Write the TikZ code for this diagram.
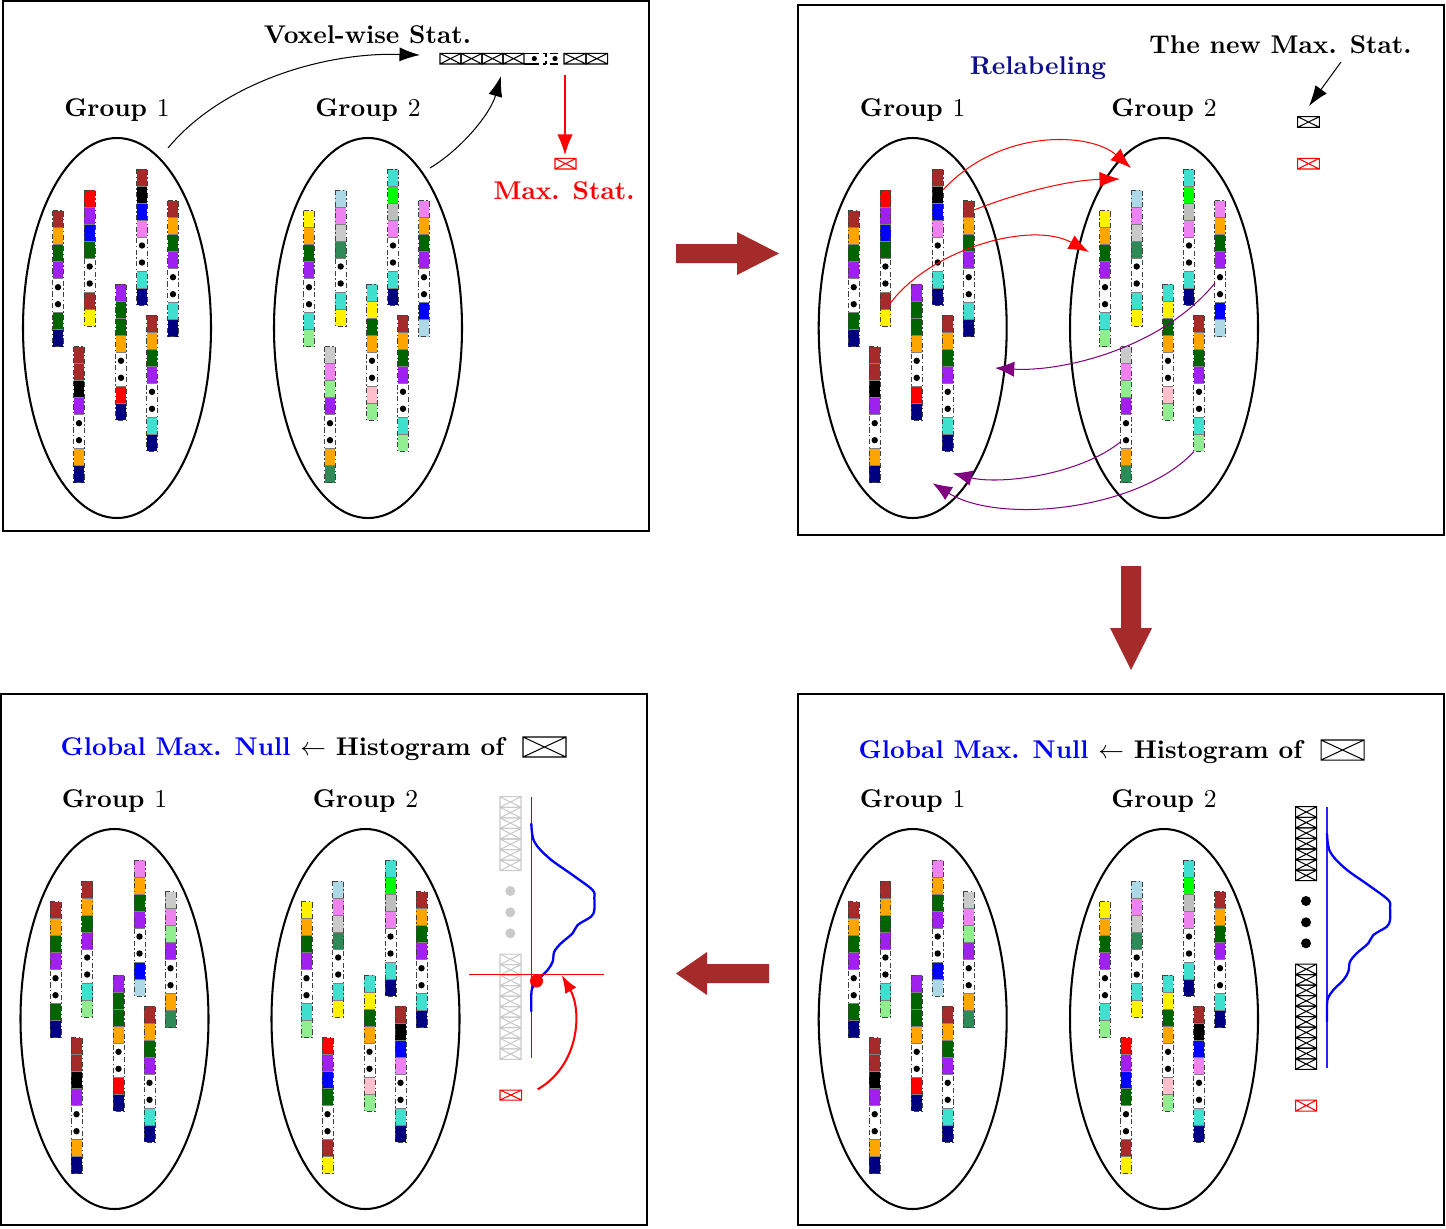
\documentclass[tikz,border=0pt]{standalone}
\usetikzlibrary{arrows.meta,calc}
\definecolor{brn}{HTML}{A52A2A}
\definecolor{org}{HTML}{FFA500}
\definecolor{dgr}{HTML}{006400}
\definecolor{pur}{HTML}{A020F0}
\definecolor{nvy}{HTML}{000080}
\definecolor{lim}{HTML}{00FF00}
\definecolor{vio}{HTML}{EE82EE}
\definecolor{tur}{HTML}{40E0D0}
\definecolor{lbl}{HTML}{ADD8E6}
\definecolor{lgy}{HTML}{CACACA}
\definecolor{gry}{HTML}{BEBEBE}
\definecolor{sgr}{HTML}{2E8B57}
\definecolor{lgr}{HTML}{90EE90}
\definecolor{pnk}{HTML}{FFC0CB}
\definecolor{arrpur}{HTML}{800080}
\definecolor{relabc}{HTML}{10108A}
\definecolor{bigarr}{HTML}{A52A2A}
\def\GA{brn,org,dgr,pur,dgr,nvy}
\def\GB{red,pur,blue,dgr,brn,yellow}
\def\GC{brn,black,blue,vio,tur,nvy}
\def\GD{brn,org,dgr,pur,tur,nvy}
\def\GE{pur,dgr,dgr,org,red,nvy}
\def\GF{brn,brn,black,pur,org,nvy}
\def\GG{brn,org,dgr,pur,tur,nvy}
\def\HA{yellow,org,dgr,pur,tur,lgr}
\def\HB{lbl,vio,lgy,sgr,tur,yellow}
\def\HC{tur,lim,gry,vio,tur,nvy}
\def\HD{vio,org,dgr,pur,blue,lbl}
\def\HE{tur,yellow,dgr,org,pnk,lgr}
\def\HF{lgy,vio,lgr,pur,org,sgr}
\def\HG{brn,org,dgr,pur,tur,lgr}
\tikzset{
  panel/.style={draw=black, line width=0.5pt},
  grpell/.style={draw=black, line width=0.8pt},
  lab/.style={font=\bfseries, inner sep=0pt, anchor=base},
  colborder/.style={draw=black!75, line width=0.3pt, dash pattern=on 2pt off 1pt on 0.5pt off 1pt},
  cellsep/.style={draw=gray, line width=0.2pt},
  blkarr/.style={-{Latex[length=8pt,width=5.5pt]}, line width=0.4pt, black},
  redarr/.style={-{Latex[length=8pt,width=6pt]}, line width=0.4pt, red},
  purarr/.style={-{Latex[length=7.5pt,width=6pt]}, line width=0.4pt, arrpur},
  bigarrow/.style={fill=bigarr, draw=none}
}
\newcommand\crossbox[5][black]{\draw[#1, line width=0.4pt] (#2,#3) rectangle (#4,#5) (#2,#3) -- (#4,#5) (#2,#5) -- (#4,#3);}
\newcommand\vcol[3]{\pgfmathsetmacro\vx{#1}\pgfmathsetmacro\vy{#2}\edef\vlist{#3}\expandafter\vcolparse\vlist\relax}
\def\vcolparse#1,#2,#3,#4,#5,#6\relax{%
 \begin{scope}[shift={(\vx-5.4,\vy)}]
  \fill[#1] (0,0) rectangle (10.8,17);
  \fill[#2] (0,17) rectangle (10.8,34);
  \fill[#3] (0,34) rectangle (10.8,51);
  \fill[#4] (0,51) rectangle (10.8,68);
  \fill[#5] (0,102) rectangle (10.8,119);
  \fill[#6] (0,119) rectangle (10.8,136);
  \fill[black] (5.4,76.5) circle[radius=3.2];
  \fill[black] (5.4,93.5) circle[radius=3.2];
  \draw[cellsep] (0,17)--(10.8,17) (0,34)--(10.8,34) (0,51)--(10.8,51) (0,68)--(10.8,68) (0,102)--(10.8,102) (0,119)--(10.8,119);
  \draw[colborder] (0,0) rectangle (10.8,136);
 \end{scope}}
\newcommand\drawgroup[9]{%
 \draw[grpell] (#1,#2+1) ellipse[x radius=94, y radius=190];
 \vcol{#1-59}{#2-116.3}{#3}
 \vcol{#1-27.3}{#2-137}{#4}
 \vcol{#1+25}{#2-158}{#5}
 \vcol{#1+56}{#2-126.3}{#6}
 \vcol{#1+4}{#2-42.7}{#7}
 \vcol{#1-38}{#2+19.7}{#8}
 \vcol{#1+35}{#2-11.7}{#9}}
\newcommand\histo[1]{%
 \foreach \i in {0,...,6} {\pgfmathsetmacro\ya{806.7+\i*10.57}\pgfmathsetmacro\yb{\ya+10.57}\crossbox[#1]{1295.7}{\ya}{1316.7}{\yb}}
 \foreach \i in {0,...,9} {\pgfmathsetmacro\ya{964+\i*10.53}\pgfmathsetmacro\yb{\ya+10.53}\crossbox[#1]{1295.7}{\ya}{1316.7}{\yb}}
 \fill[#1] (1306,901) circle[radius=5] (1306,922.3) circle[radius=5] (1306,943.3) circle[radius=5];
 \draw[blue!85!white, line width=0.6pt] (1327,806.7) -- (1327,1068.3);
 \draw[blue, line width=0.9pt] plot[smooth, tension=0.55] coordinates {(1327,833.3) (1330,851.7) (1345,868.3) (1368.3,885) (1388.3,900) (1390,908) (1390,920) (1386.7,926.7) (1373.3,935) (1368.3,943.3) (1356.7,953.3) (1350,961.7) (1348.3,971.7) (1343.3,980) (1333.3,990) (1328,998) (1327,1005) (1327,1021.7)};}
\begin{document}
\begin{tikzpicture}[x=0.39pt,y=-0.39pt]
\useasboundingbox (0,0) rectangle (1446,1228);
\fill[white] (0,0) rectangle (1446,1228);
% panels
\draw[panel] (3,1) rectangle (649,531);
\draw[panel] (798,5) rectangle (1444,535);
\draw[panel] (1,694) rectangle (647,1225);
\draw[panel] (798,694) rectangle (1444,1225);
% big arrows
\fill[bigarrow] (676,244) -- (737,244) -- (737,232) -- (779,253.5) -- (737,275) -- (737,263) -- (676,263) -- cycle;
\fill[bigarrow] (1121,566) -- (1141,566) -- (1141,628) -- (1152,628) -- (1131,670) -- (1110,628) -- (1121,628) -- cycle;
\fill[bigarrow] (769,964) -- (707,964) -- (707,952) -- (676,973.5) -- (707,995) -- (707,983) -- (769,983) -- cycle;
% groups
\drawgroup{117}{327}{\GA}{\GB}{\GC}{\GD}{\GE}{\GF}{\GG}
\drawgroup{368}{327}{\HA}{\HB}{\HC}{\HD}{\HE}{\HF}{\HG}
\drawgroup{912.7}{327}{\GA}{\GB}{\GC}{\GD}{\GE}{\GF}{\GG}
\drawgroup{1164}{327}{\HA}{\HB}{\HC}{\HD}{\HE}{\HF}{\HG}
\drawgroup{114.5}{1018}{\GA}{\HG}{\HD}{\HF}{\GE}{\GF}{\GG}
\drawgroup{365.5}{1018}{\HA}{\HB}{\HC}{\GD}{\HE}{\GB}{\GC}
\drawgroup{912.7}{1018}{\GA}{\HG}{\HD}{\HF}{\GE}{\GF}{\GG}
\drawgroup{1164}{1018}{\HA}{\HB}{\HC}{\GD}{\HE}{\GB}{\GC}
% group labels
\node[lab] (p1g1) at (117,116) {Group $1$};
\node[lab] (p1g2) at (368,116) {Group $2$};
\node[lab] (p2g1) at (912.7,116) {Group $1$};
\node[lab] (p2g2) at (1164,116) {Group $2$};
\node[lab] (p3g1) at (114.5,807) {Group $1$};
\node[lab] (p3g2) at (365.5,807) {Group $2$};
\node[lab] (p4g1) at (912.7,807) {Group $1$};
\node[lab] (p4g2) at (1164,807) {Group $2$};
% panel 1
\node[lab] (vox) at (367.5,43) {Voxel-wise Stat.};
\foreach \i in {0,...,3} {\crossbox{440+\i*21}{53.3}{461+\i*21}{64}}
\crossbox{564}{53.3}{586}{64}
\crossbox{586}{53.3}{607.7}{64}
\draw[black, line width=0.4pt, dash pattern=on 6pt off 1.5pt on 1pt off 1.5pt] (524,53.3) -- (558,53.3) (524,64) -- (558,64);
\draw[black, line width=0.4pt, dash pattern=on 1.5pt off 1.5pt] (546,53.3) -- (546,64);
\fill[black] (534.3,58.6) circle[radius=2.6] (555,58.6) circle[radius=2.6];
\crossbox[red]{555}{158.3}{576}{169}
\node[lab, text=red] (maxs) at (564,199) {Max. Stat.};
\coordinate (a1s) at (168,148); \coordinate (a1e) at (420,55);
\draw[blkarr] (a1s) .. controls (220,85) and (320,52) .. (a1e);
\coordinate (a2s) at (430,168); \coordinate (a2e) at (501,76);
\draw[blkarr] (a2s) .. controls (460,150) and (490,115) .. (a2e);
\coordinate (r0s) at (565,75); \coordinate (r0e) at (565,155);
\draw[redarr] (r0s) -- (r0e);
% panel 2
\node[lab, text=relabc] (relab) at (1038,74) {Relabeling};
\node[lab] (tnew) at (1280.5,53) {The new Max. Stat.};
\crossbox{1297.7}{116.7}{1319.3}{127.3}
\crossbox[red]{1297.7}{158.3}{1319.3}{169}
\coordinate (nms) at (1341,62); \coordinate (nme) at (1309,106);
\draw[blkarr] (nms) -- (nme);
\coordinate (r1s) at (943,190); \coordinate (r1e) at (1131,168);
\draw[redarr] (r1s) .. controls (1000,128) and (1090,132) .. (r1e);
\coordinate (r2s) at (974,210); \coordinate (r2e) at (1120,179);
\draw[redarr] (r2s) .. controls (1020,192) and (1070,180) .. (r2e);
\coordinate (r3s) at (890.5,303); \coordinate (r3e) at (1089,252);
\draw[redarr] (r3s) .. controls (930,250) and (1030,220) .. (r3e);
\coordinate (p4s) at (1215,283); \coordinate (p4e) at (995,368);
\draw[purarr] (p4s) .. controls (1160,350) and (1060,372) .. (p4e);
\coordinate (p5s) at (1120.7,441.7); \coordinate (p5e) at (952.7,473.3);
\draw[purarr] (p5s) .. controls (1080,475) and (1000,485) .. (p5e);
\coordinate (p6s) at (1194,451.5); \coordinate (p6e) at (932.7,483.3);
\draw[purarr] (p6s) .. controls (1140,510) and (1000,525) .. (p6e);
% panel 3
\node[lab] (gm3) at (282.5,755) {\textcolor{blue}{Global Max. Null} $\leftarrow$ Histogram of};
\crossbox{523}{737}{566}{757}
\begin{scope}[shift={(-795.7,-10)}]
 \histo{lgy}
\end{scope}
\draw[red, line width=0.4pt] (469,974.3) -- (604.3,974.3);
\fill[red] (536.5,981) circle[radius=6.5];
\coordinate (hs) at (537.7,1089.3); \coordinate (he) at (561.7,975);
\draw[red, line width=0.8pt, -{Latex[length=7pt,width=5pt]}] (hs) .. controls (580,1065) and (582,1010) .. (he);
\crossbox[red]{500}{1090}{521.7}{1100}
% panel 4
\node[lab] (gm4) at (1080.5,758) {\textcolor{blue}{Global Max. Null} $\leftarrow$ Histogram of};
\crossbox{1321}{740}{1364}{760}
\histo{black}
\crossbox[red]{1295.7}{1100}{1316.7}{1111}
\end{tikzpicture}
\end{document}
